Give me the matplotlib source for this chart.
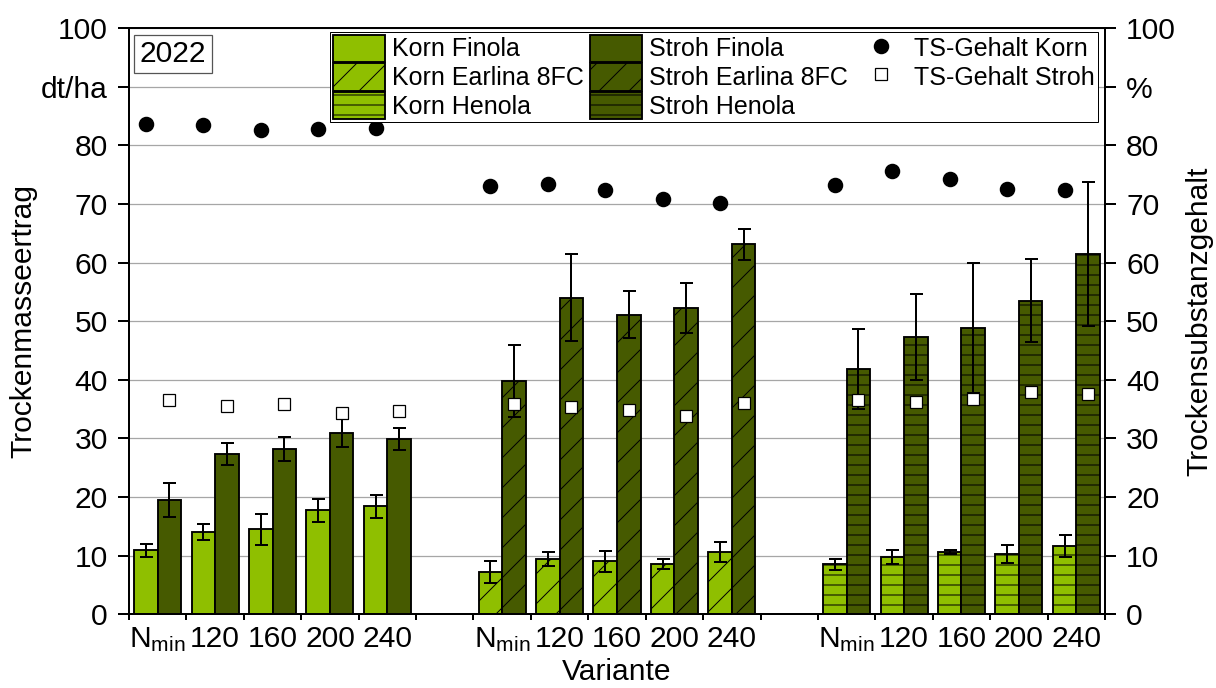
import matplotlib
matplotlib.use("Agg")
import matplotlib.pyplot as plt
import numpy as np

plt.rcParams['font.family'] = ['Liberation Sans', 'DejaVu Sans']
plt.rcParams['mathtext.fontset'] = 'custom'
plt.rcParams['mathtext.rm'] = 'Liberation Sans'
plt.rcParams['mathtext.it'] = 'Liberation Sans:italic'
plt.rcParams['hatch.linewidth'] = 0.4

# ---------------- data ----------------
categories = ['$\\mathregular{N_{min}}$', '120', '160', '200', '240']
varieties = ['Finola', 'Earlina 8FC', 'Henola']

korn_finola = [10.9, 14.0, 14.5, 17.7, 18.4]
korn_finola_err = [1.15, 1.4, 2.65, 1.95, 1.9]
stroh_finola = [19.5, 27.3, 28.2, 31.0, 29.9]
stroh_finola_err = [2.95, 1.9, 2.1, 2.4, 1.9]

korn_earlina = [7.2, 9.4, 9.0, 8.6, 10.6]
korn_earlina_err = [1.95, 1.15, 1.75, 0.9, 1.7]
stroh_earlina = [39.8, 54.0, 51.1, 52.3, 63.1]
stroh_earlina_err = [6.1, 7.4, 4.0, 4.3, 2.6]

korn_henola = [8.5, 9.7, 10.6, 10.3, 11.6]
korn_henola_err = [1.0, 1.2, 0.4, 1.5, 1.9]
stroh_henola = [41.9, 47.3, 48.9, 53.5, 61.5]
stroh_henola_err = [6.8, 7.3, 11.1, 7.1, 12.3]

ts_korn = [83.7, 83.5, 82.6, 82.8, 82.9,
           73.1, 73.5, 72.4, 70.9, 70.1,
           73.2, 75.6, 74.3, 72.5, 72.4]
ts_stroh = [36.6, 35.6, 35.9, 34.3, 34.7,
            35.8, 35.4, 34.8, 33.9, 36.1,
            36.5, 36.2, 36.7, 37.9, 37.6]

korn = [korn_finola, korn_earlina, korn_henola]
korn_err = [korn_finola_err, korn_earlina_err, korn_henola_err]
stroh = [stroh_finola, stroh_earlina, stroh_henola]
stroh_err = [stroh_finola_err, stroh_earlina_err, stroh_henola_err]
hatches = ['', '//', '---']

korn_color = '#8fbf00'
stroh_color = '#465a00'

# ---------------- figure ----------------
DPI = 180
fig = plt.figure(figsize=(1216 / DPI, 688 / DPI), dpi=DPI)
ax = fig.add_axes([129 / 1216, 1 - 614.2 / 688, (1105 - 129) / 1216, (614.2 - 28.3) / 688])
ax2 = ax.twinx()

FS = 12
bw = 0.41
n = len(categories)
korn_handles, stroh_handles = [], []
all_korn_x, all_stroh_x = [], []
for g in range(3):
    centers = g * (n + 1) + np.arange(n) + 0.5
    xk = centers - bw / 2
    xs = centers + bw / 2
    all_korn_x.extend(xk)
    all_stroh_x.extend(xs)
    hk = ax.bar(xk, korn[g], width=bw, color=korn_color, edgecolor='black',
                linewidth=0.75, hatch=hatches[g], zorder=2,
                label='Korn ' + varieties[g])
    hs = ax.bar(xs, stroh[g], width=bw, color=stroh_color, edgecolor='black',
                linewidth=0.75, hatch=hatches[g], zorder=2,
                label='Stroh ' + varieties[g])
    ax.errorbar(xk, korn[g], yerr=korn_err[g], fmt='none', ecolor='black',
                elinewidth=0.8, capsize=2.6, capthick=0.8, zorder=3)
    ax.errorbar(xs, stroh[g], yerr=stroh_err[g], fmt='none', ecolor='black',
                elinewidth=0.8, capsize=2.6, capthick=0.8, zorder=3)
    korn_handles.append(hk)
    stroh_handles.append(hs)

l1, = ax2.plot(all_korn_x, ts_korn, linestyle='none', marker='o', markersize=5.2,
               color='black', label='TS-Gehalt Korn', zorder=4)
l2, = ax2.plot(all_stroh_x, ts_stroh, linestyle='none', marker='s', markersize=4.4,
               markerfacecolor='white', markeredgecolor='black', markeredgewidth=0.5,
               label='TS-Gehalt Stroh', zorder=4)

# axes setup
xmax = 3 * n + 2
ax.set_xlim(0, xmax)
ax.set_ylim(0, 100)
ax2.set_ylim(0, 100)

yt = np.arange(0, 101, 10)
ylab_left = [str(v) if v != 90 else 'dt/ha' for v in yt]
ylab_right = [str(v) if v != 90 else '%' for v in yt]
ax.set_yticks(yt)
ax.set_yticklabels(ylab_left)
ax2.set_yticks(yt)
ax2.set_yticklabels(ylab_right)

major_x = [g * (n + 1) + j + 0.5 for g in range(3) for j in range(n)]
minor_x = [g * (n + 1) + k for g in range(3) for k in range(n + 1)]
ax.set_xticks(major_x)
ax.set_xticklabels(categories * 3)
ax.set_xticks(minor_x, minor=True)
ax.tick_params(axis='x', which='major', length=0, pad=4.5, labelsize=FS)
ax.tick_params(axis='x', which='minor', length=2.2, width=0.8, direction='out')
ax.tick_params(axis='y', which='major', length=4.4, width=0.8, direction='out',
               pad=4.0, labelsize=FS)
ax2.tick_params(axis='y', which='major', length=4.4, width=0.8, direction='out',
                pad=4.0, labelsize=FS)

ax.yaxis.grid(True, color='#a6a6a6', linewidth=0.5, zorder=0)
ax.set_axisbelow(True)
for a in (ax, ax2):
    for s in a.spines.values():
        s.set_linewidth(0.8)
        s.set_color('black')

ax.set_ylabel('Trockenmasseertrag', fontsize=FS, labelpad=1.5)
ax2.set_ylabel('Trockensubstanzgehalt', fontsize=FS, labelpad=4)
ax.set_xlabel('Variante', fontsize=FS, labelpad=1.5)

# year box
fig.text(173 / 1216, 1 - 54 / 688, '2022', fontsize=FS, ha='center', va='center',
         bbox=dict(boxstyle='square,pad=0.18', facecolor='white', edgecolor='#555555',
                   linewidth=0.5))

# legend
handles = korn_handles + stroh_handles + [l1, l2]
labels = [h.get_label() for h in handles]
leg = ax2.legend(handles, labels, ncol=3, loc='upper left',
                 bbox_to_anchor=(330 / 1216, 1 - 32 / 688), bbox_transform=fig.transFigure,
                 fontsize=10, handlelength=2.08, handleheight=1.3, handletextpad=0.28,
                 columnspacing=0.28, labelspacing=0.06, borderpad=0.1,
                 borderaxespad=0, frameon=True, fancybox=False, framealpha=1)
leg.get_frame().set_edgecolor('black')
leg.get_frame().set_linewidth(0.4)
leg.set_zorder(10)

fig.savefig('out.png', dpi=DPI)
